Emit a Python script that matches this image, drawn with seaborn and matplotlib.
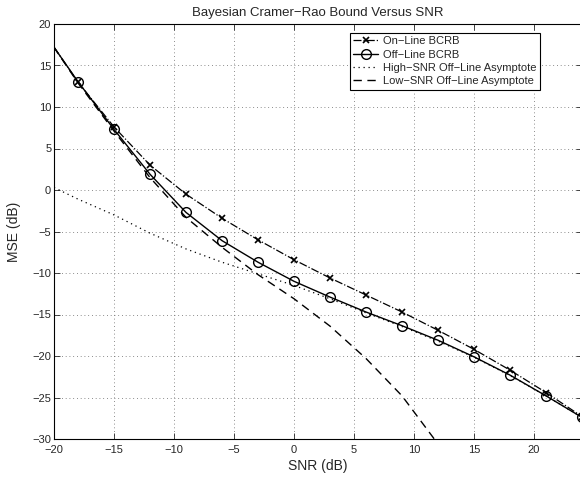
import numpy as np
import pandas as pd
import matplotlib
matplotlib.use('Agg')
import matplotlib.pyplot as plt
import seaborn as sns

# SNR grid (dB): -20 endpoint + marker positions every 3 dB
snr = [-20, -18, -15, -12, -9, -6, -3, 0, 3, 6, 9, 12, 15, 18, 21, 24]

online_bcrb = [17.2, 13.0, 7.6, 3.0, -0.5, -3.4, -6.0, -8.4, -10.6, -12.65,
               -14.7, -16.9, -19.2, -21.7, -24.4, -27.3]
offline_bcrb = [17.2, 13.05, 7.3, 1.9, -2.7, -6.1, -8.7, -11.0, -12.9, -14.7,
                -16.35, -18.1, -20.1, -22.3, -24.8, -27.4]
high_snr_asym = [0.3, -1.1, -3.0, -5.2, -7.1, -8.7, -10.1, -11.5, -13.1, -14.8,
                 -16.45, -18.2, -20.15, -22.35, -24.8, -27.4]

snr_low = [-20, -18, -15, -12, -9, -6, -3, 0, 3, 6, 9, 12]
low_snr_asym = [17.2, 12.9, 7.1, 1.5, -3.3, -6.9, -10.2, -13.1, -16.4, -20.3,
                -24.8, -30.6]

labels = ['On\u2212Line BCRB', 'Off\u2212Line BCRB',
          'High\u2212SNR Off\u2212Line Asymptote', 'Low\u2212SNR Off\u2212Line Asymptote']

sns.set_style('ticks')
plt.rcParams['font.family'] = ['Liberation Sans', 'DejaVu Sans']
plt.rcParams['axes.unicode_minus'] = True

fig = plt.figure(figsize=(5.8, 4.79), dpi=100)
ax = fig.add_axes([54 / 580, 40 / 479, 528 / 580, 415 / 479])

df_on = pd.DataFrame({'snr': snr, 'mse': online_bcrb})
df_off = pd.DataFrame({'snr': snr, 'mse': offline_bcrb})
df_hi = pd.DataFrame({'snr': snr, 'mse': high_snr_asym})
df_lo = pd.DataFrame({'snr': snr_low, 'mse': low_snr_asym})

marks = list(range(1, len(snr)))

sns.lineplot(data=df_on, x='snr', y='mse', ax=ax, color='k', lw=0.9,
             linestyle='-.', marker='x', markersize=5, mew=1.2, mec='k',
             markevery=marks, label=labels[0])
sns.lineplot(data=df_off, x='snr', y='mse', ax=ax, color='k', lw=1.0,
             linestyle='-', marker='o', markersize=7, mfc='none', mec='k', mew=1.0,
             markevery=marks, label=labels[1])
sns.lineplot(data=df_hi, x='snr', y='mse', ax=ax, color='k', lw=0.9,
             dashes=(1, 3), label=labels[2])
sns.lineplot(data=df_lo, x='snr', y='mse', ax=ax, color='k', lw=1.0,
             dashes=(6, 4), label=labels[3])

ax.set_xlim(-20, 24)
ax.set_ylim(-30, 20)
ax.set_xticks(np.arange(-20, 25, 5))
ax.set_yticks(np.arange(-30, 21, 5))
ax.grid(True, color='0.4', linestyle=(0, (1, 3.5)), linewidth=0.6)
ax.tick_params(direction='in', top=True, right=True, labelsize=8, length=4, width=0.6)
ax.tick_params(axis='x', pad=4)
ax.tick_params(axis='y', pad=2)
for s in ax.spines.values():
    s.set_visible(True)
    s.set_linewidth(0.8)
    s.set_color('k')

ax.set_xlabel('SNR (dB)', fontsize=10, labelpad=3)
ax.set_ylabel('MSE (dB)', fontsize=10, labelpad=8)
ax.set_title('Bayesian Cramer\u2212Rao Bound Versus SNR', fontsize=9.5, pad=6)

leg = ax.legend(loc='upper left', bbox_to_anchor=(350 / 580, 1 - 33 / 479),
                bbox_transform=fig.transFigure, fontsize=8, frameon=True,
                fancybox=False, framealpha=1, edgecolor='k', borderpad=0.3,
                labelspacing=0.3, handlelength=2.2, handletextpad=0.5,
                borderaxespad=0)
leg.get_frame().set_linewidth(0.8)
# one marker in the middle of each legend handle
for h in leg.legend_handles:
    h.set_markevery([1])

fig.savefig('out.png', dpi=100)
